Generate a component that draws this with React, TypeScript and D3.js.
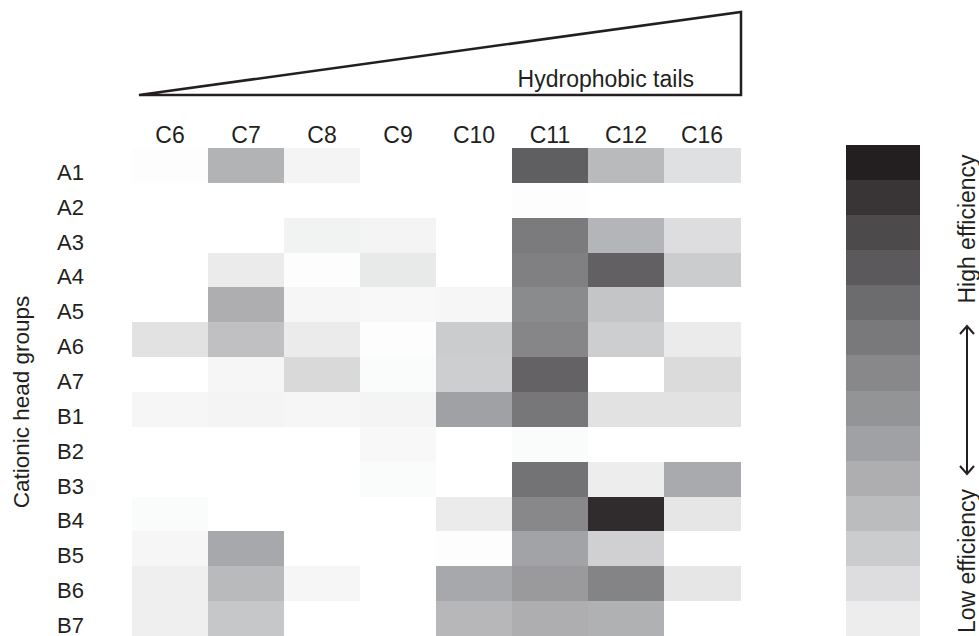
import React from "react";
import * as d3 from "d3";

const tails = ["C6", "C7", "C8", "C9", "C10", "C11", "C12", "C16"];
const heads = ["A1", "A2", "A3", "A4", "A5", "A6", "A7", "B1", "B2", "B3", "B4", "B5", "B6", "B7"];

// efficiency (0 = none, 1 = highest), rows = heads, columns = tails
const efficiency: number[][] = [
  [0.01, 0.34, 0.05, 0, 0, 0.72, 0.31, 0.14],
  [0, 0, 0, 0, 0, 0.01, 0, 0],
  [0, 0, 0.06, 0.05, 0, 0.59, 0.33, 0.15],
  [0, 0.09, 0.01, 0.10, 0, 0.57, 0.71, 0.23],
  [0, 0.36, 0.04, 0.03, 0.04, 0.52, 0.26, 0],
  [0.13, 0.28, 0.09, 0.01, 0.23, 0.54, 0.22, 0.09],
  [0, 0.04, 0.17, 0.02, 0.22, 0.70, 0, 0.16],
  [0.04, 0.05, 0.04, 0.05, 0.42, 0.61, 0.13, 0.13],
  [0, 0, 0, 0.03, 0, 0.02, 0, 0],
  [0, 0, 0, 0.02, 0, 0.63, 0.08, 0.38],
  [0.02, 0, 0, 0, 0.09, 0.53, 0.94, 0.11],
  [0.04, 0.39, 0, 0, 0.01, 0.41, 0.21, 0],
  [0.07, 0.31, 0.04, 0, 0.39, 0.45, 0.55, 0.11],
  [0.07, 0.25, 0, 0, 0.32, 0.36, 0.35, 0],
];

const legendSteps = [1.0, 0.9, 0.81, 0.74, 0.66, 0.6, 0.53, 0.48, 0.42, 0.36, 0.3, 0.23, 0.15, 0.08];

const FONT = "'Liberation Sans', Arial, Helvetica, sans-serif";
const INK = "#231f20";

export default function App() {
  const W = 979;
  const H = 636;
  const x = d3.scaleBand<string>().domain(tails).range([132, 740]);
  const y = d3.scaleBand<string>().domain(heads).range([148, 636]);
  const color = d3
    .scaleLinear<string>()
    .domain([0, 0.42, 1])
    .range(["#ffffff", "#a0a1a4", "#231f20"])
    .interpolate(d3.interpolateRgb)
    .clamp(true);
  const ly = d3
    .scaleBand<number>()
    .domain(d3.range(legendSteps.length))
    .range([145, 636]);

  const tri = d3.line()([
    [139, 95],
    [741, 12],
    [741, 95],
  ]) + "Z";

  const ax = 967;
  const aTop = 325;
  const aBot = 475;

  return (
    <svg
      width={W}
      height={H}
      style={{ position: "absolute", left: 0, top: 0, background: "#fff" }}
      fontFamily={FONT}
    >
      <path d={tri} fill="none" stroke={INK} strokeWidth={2.5} strokeLinejoin="miter" />
      <text x={694} y={87} fontSize={23} fill={INK} textAnchor="end">
        Hydrophobic tails
      </text>

      {tails.map((t) => (
        <text
          key={t}
          x={(x(t) ?? 0) + x.bandwidth() / 2}
          y={143}
          fontSize={23}
          fill={INK}
          textAnchor="middle"
        >
          {t}
        </text>
      ))}

      {heads.map((h, i) => (
        <g key={h}>
          <text x={57} y={(y(h) ?? 0) + y.bandwidth() - 3} fontSize={22} fill={INK}>
            {h}
          </text>
          {tails.map((t, j) => (
            <rect
              key={t}
              x={x(t)}
              y={y(h)}
              width={x.bandwidth() + 0.5}
              height={y.bandwidth() + 0.5}
              fill={color(efficiency[i][j])}
              shapeRendering="crispEdges"
            />
          ))}
        </g>
      ))}

      <text
        transform={`translate(29,402) rotate(-90)`}
        fontSize={22.5}
        fill={INK}
        textAnchor="middle"
      >
        Cationic head groups
      </text>

      {legendSteps.map((v, i) => (
        <rect
          key={i}
          x={846}
          y={ly(i)}
          width={74}
          height={ly.bandwidth() + 0.5}
          fill={color(v)}
          shapeRendering="crispEdges"
        />
      ))}

      <text
        transform={`translate(975,229) rotate(-90)`}
        fontSize={23}
        fill={INK}
        textAnchor="middle"
      >
        High efficiency
      </text>
      <text
        transform={`translate(975,561) rotate(-90)`}
        fontSize={23}
        fill={INK}
        textAnchor="middle"
      >
        Low efficiency
      </text>
      <line x1={ax} y1={aTop + 1} x2={ax} y2={aBot - 1} stroke={INK} strokeWidth={2} />
      <polyline
        points={`${ax - 7},${aTop + 9} ${ax},${aTop + 1} ${ax + 7},${aTop + 9}`}
        fill="none"
        stroke={INK}
        strokeWidth={2}
      />
      <polyline
        points={`${ax - 7},${aBot - 9} ${ax},${aBot - 1} ${ax + 7},${aBot - 9}`}
        fill="none"
        stroke={INK}
        strokeWidth={2}
      />
    </svg>
  );
}
